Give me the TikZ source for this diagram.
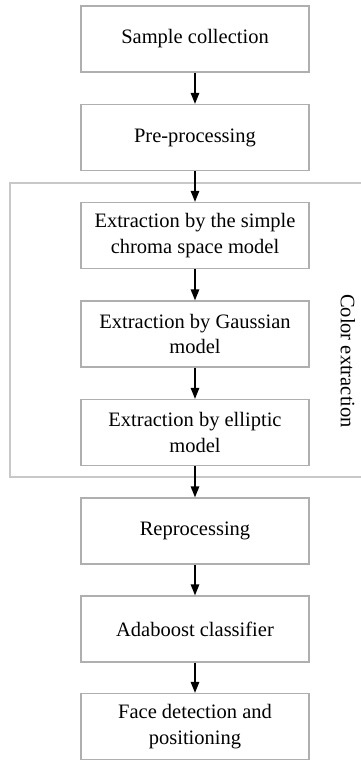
\documentclass[tikz,border=0pt]{standalone}
\usepackage{fontspec}
\setmainfont{Liberation Serif}
\usetikzlibrary{arrows.meta}
\definecolor{boxgray}{RGB}{175,175,175}
\definecolor{framegray}{RGB}{200,200,200}
\begin{document}
\begin{tikzpicture}[x=1pt,y=-1pt,
  stepbox/.style={draw=boxgray,line width=1.3pt,minimum width=228pt,minimum height=66pt,
    align=center,font=\fontsize{20.5}{25.5}\selectfont,inner sep=0pt},
  flow/.style={line width=1.3pt,-{Triangle[width=8.5pt,length=11pt]}},
  frame/.style={draw=framegray,line width=1.3pt}]
\useasboundingbox (0,0) rectangle (361,760);
\node[stepbox] (s1) at (195,39) {Sample collection};
\node[stepbox] (s2) at (195,137.5) {Pre-processing};
\node[stepbox] (s3) at (195,235.5) {Extraction by the simple\\chroma space model};
\node[stepbox] (s4) at (195,334) {Extraction by Gaussian\\model};
\node[stepbox] (s5) at (195,432.5) {Extraction by elliptic\\model};
\node[stepbox] (s6) at (195,531) {Reprocessing};
\node[stepbox] (s7) at (195,629) {Adaboost classifier};
\node[stepbox] (s8) at (195,726.5) {Face detection and\\positioning};
\coordinate (ftr) at (365,183);
\coordinate (ftl) at (10,183);
\coordinate (fbl) at (10,477);
\coordinate (fbr) at (365,477);
\draw[frame] (ftr) -- (ftl) -- (fbl) -- (fbr);
\node[rotate=-90,font=\fontsize{20.5}{25.5}\selectfont,inner sep=0pt] (lab) at (348,361) {Color extraction};
\draw[flow] (s1) -- (s2);
\draw[flow] (s2) -- (s3);
\draw[flow] (s3) -- (s4);
\draw[flow] (s4) -- (s5);
\draw[flow] (s5) -- (s6);
\draw[flow] (s6) -- (s7);
\draw[flow] (s7) -- (s8);
\end{tikzpicture}
\end{document}
